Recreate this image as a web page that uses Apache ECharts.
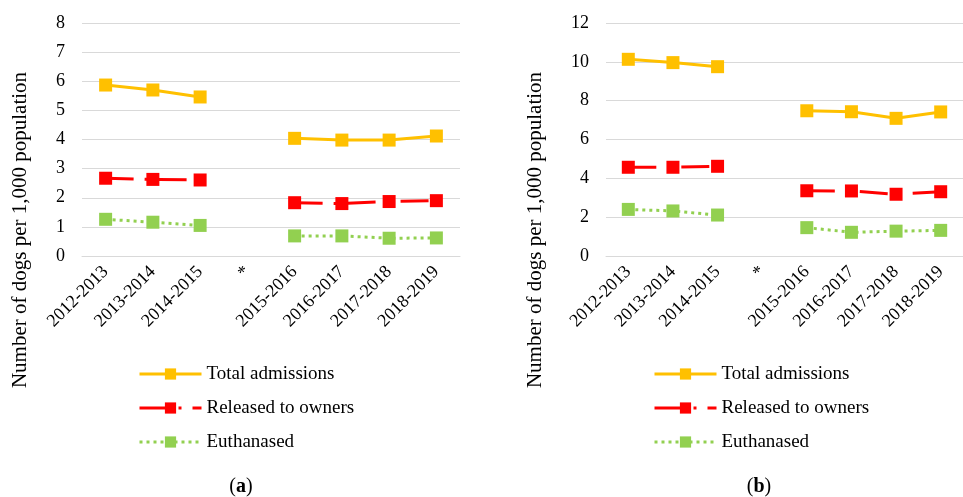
<!DOCTYPE html>
<html>
<head>
<meta charset="utf-8">
<script src="https://cdn.jsdelivr.net/npm/echarts@6/dist/echarts.min.js"></script>
<style>
  html, body { margin: 0; padding: 0; background: #fff; }
  #chart { width: 963px; height: 497px; }
</style>
</head>
<body>
<div id="chart"></div>
<script>
// Financial years on the x axis; "*" marks the break in the reporting series.
const categories = ['2012-2013', '2013-2014', '2014-2015', '*', '2015-2016', '2016-2017', '2017-2018', '2018-2019'];

// Panel (a): dogs per 1,000 population
const totalA = [5.87, 5.70, 5.46, null, 4.04, 3.98, 3.98, 4.12];
const releasedA = [2.67, 2.63, 2.61, null, 1.83, 1.80, 1.87, 1.90];
const euthanasedA = [1.26, 1.16, 1.05, null, 0.69, 0.69, 0.61, 0.62];

// Panel (b): dogs per 1,000 population
const totalB = [10.13, 9.96, 9.75, null, 7.48, 7.43, 7.09, 7.42];
const releasedB = [4.57, 4.57, 4.62, null, 3.36, 3.35, 3.18, 3.31];
const euthanasedB = [2.40, 2.32, 2.11, null, 1.46, 1.22, 1.28, 1.32];

const yTicksA = { min: 0, max: 8, interval: 1 };
const yTicksB = { min: 0, max: 12, interval: 2 };

const seriesNames = ['Total admissions', 'Released to owners', 'Euthanased'];
const yTitle = 'Number of dogs per 1,000 population';

const FONT = "'Liberation Serif', 'Times New Roman', serif";
const GRID_GRAY = '#d9d9d9';

const styles = [
  { color: '#FFC000', lineStyle: { width: 3, type: 'solid' } },
  { color: '#FF0000', lineStyle: { width: 3, type: [28, 11, 3, 11], cap: 'butt' } },
  { color: '#92D050', lineStyle: { width: 3, type: [3, 4], cap: 'butt' } }
];

function makeSeries(name, data, idx, style) {
  return {
    name: name,
    type: 'line',
    xAxisIndex: idx,
    yAxisIndex: idx,
    data: data,
    connectNulls: false,
    symbol: 'rect',
    symbolSize: 13,
    showAllSymbol: true,
    itemStyle: { color: style.color },
    lineStyle: Object.assign({ color: style.color }, style.lineStyle),
    emphasis: { disabled: true },
    animation: false,
    z: 3
  };
}

function xAxis(gridIndex) {
  return {
    type: 'category',
    gridIndex: gridIndex,
    data: categories,
    boundaryGap: true,
    axisLine: { show: true, lineStyle: { color: GRID_GRAY, width: 1 } },
    axisTick: { show: false },
    axisLabel: {
      interval: 0,
      rotate: 45,
      margin: 13,
      color: '#000',
      fontFamily: FONT,
      fontSize: 18
    }
  };
}

function yAxis(gridIndex, ticks) {
  return {
    type: 'value',
    gridIndex: gridIndex,
    min: ticks.min,
    max: ticks.max,
    interval: ticks.interval,
    axisLine: { show: false },
    axisTick: { show: false },
    axisLabel: { margin: 17, color: '#000', fontFamily: FONT, fontSize: 18 },
    splitLine: { lineStyle: { color: GRID_GRAY, width: 1 } }
  };
}

function legend(left) {
  return {
    orient: 'vertical',
    left: left,
    top: 364,
    padding: 0,
    data: seriesNames,
    itemWidth: 62,
    itemHeight: 14,
    itemGap: 14,
    lineStyle: { width: 3 },
    textStyle: { color: '#000', fontFamily: FONT, fontSize: 19, lineHeight: 20 },
    selectedMode: false
  };
}

function rotatedTitle(cx, cy) {
  return {
    type: 'text',
    x: cx,
    y: cy,
    rotation: Math.PI / 2,
    style: {
      text: yTitle,
      fill: '#000',
      font: '21px ' + FONT,
      textAlign: 'center',
      textVerticalAlign: 'middle'
    }
  };
}

function caption(cx, letter) {
  return {
    type: 'text',
    x: cx,
    y: 487,
    style: {
      text: '{n|(}{b|' + letter + '}{n|)}',
      textAlign: 'center',
      textVerticalAlign: 'middle',
      rich: {
        n: { fontFamily: FONT, fontSize: 20, fill: '#000' },
        b: { fontFamily: FONT, fontSize: 20, fontWeight: 'bold', fill: '#000' }
      }
    }
  };
}

const chart = echarts.init(document.getElementById('chart'), null, { renderer: 'canvas' });

chart.setOption({
  backgroundColor: '#fff',
  animation: false,
  grid: [
    { left: 82, top: 23, width: 378, height: 233 },
    { left: 606, top: 23, width: 368, height: 233 }
  ],
  xAxis: [xAxis(0), xAxis(1)],
  yAxis: [yAxis(0, yTicksA), yAxis(1, yTicksB)],
  legend: [legend(138), legend(653)],
  series: [
    makeSeries(seriesNames[0], totalA, 0, styles[0]),
    makeSeries(seriesNames[1], releasedA, 0, styles[1]),
    makeSeries(seriesNames[2], euthanasedA, 0, styles[2]),
    makeSeries(seriesNames[0], totalB, 1, styles[0]),
    makeSeries(seriesNames[1], releasedB, 1, styles[1]),
    makeSeries(seriesNames[2], euthanasedB, 1, styles[2])
  ],
  graphic: [
    rotatedTitle(20, 230),
    rotatedTitle(535, 230),
    caption(241, 'a'),
    caption(759, 'b')
  ]
});
</script>
</body>
</html>
